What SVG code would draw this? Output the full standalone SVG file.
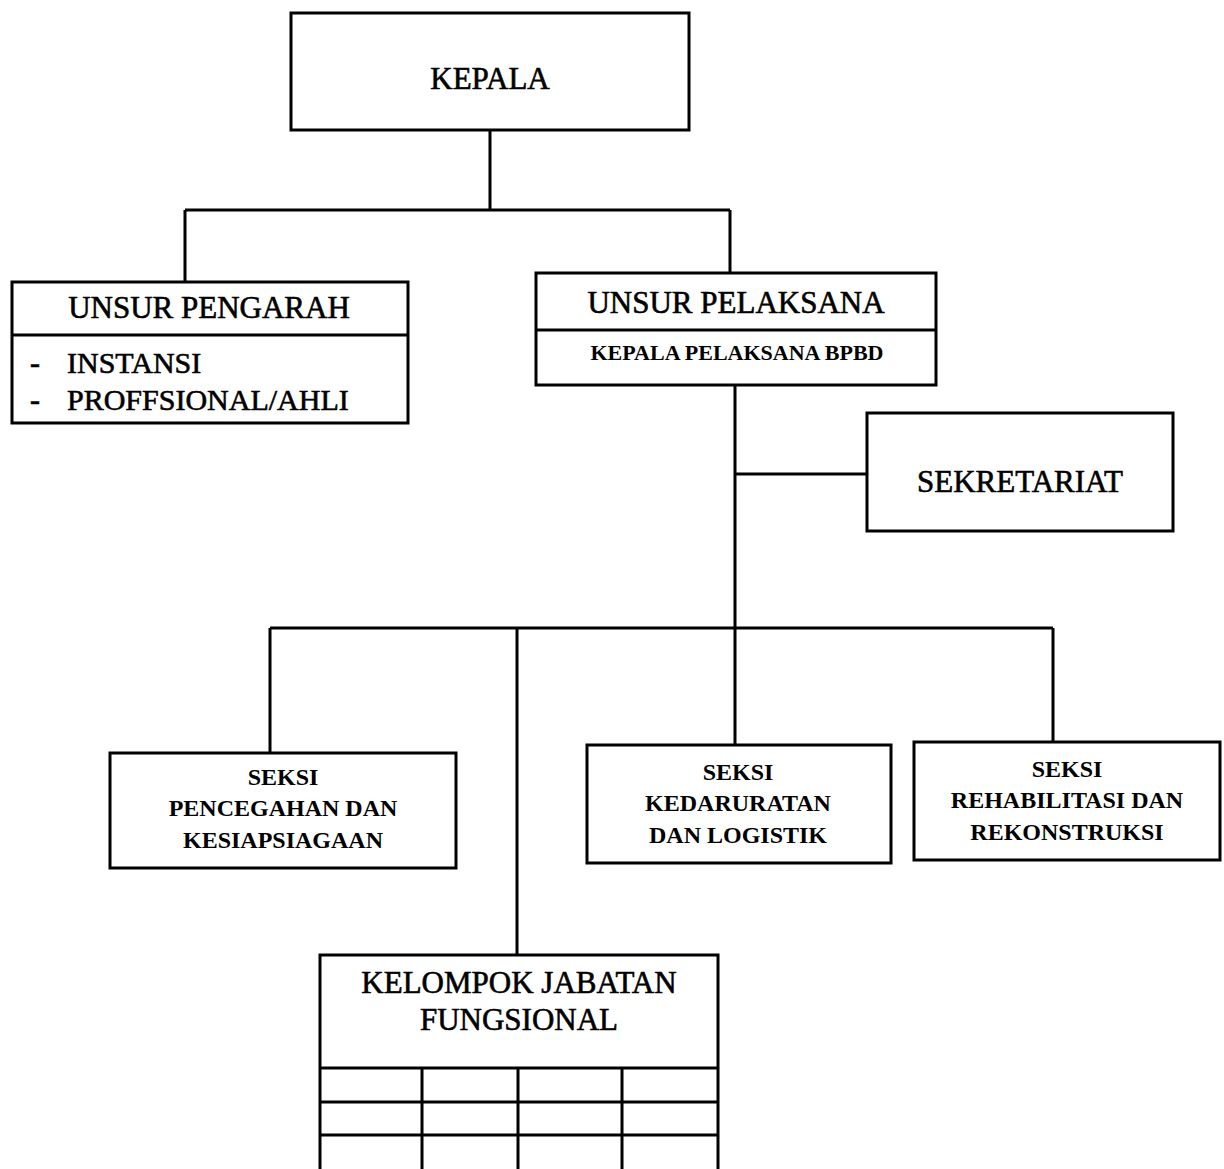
<svg xmlns="http://www.w3.org/2000/svg" width="1224" height="1169" viewBox="0 0 1224 1169">
<style>
.box{fill:#fff;stroke:#000;stroke-width:3}
.ln{fill:none;stroke:#000;stroke-width:3}
.t{font-family:"Liberation Serif","Times New Roman",serif;font-size:31px;fill:#000;stroke:#000;stroke-width:0.6;text-anchor:middle}
.s{font-family:"Liberation Serif","Times New Roman",serif;font-size:24px;font-weight:bold;fill:#000;text-anchor:middle}
.l{font-family:"Liberation Serif","Times New Roman",serif;font-size:30px;fill:#000;stroke:#000;stroke-width:0.6}
</style>
<rect width="1224" height="1169" fill="#fff"/>
<g id="connectors" class="ln">
<path d="M490 130V210M185 210H730M185 210V282M730 210V273"/>
<path d="M735 385V628M735 474H867"/>
<path d="M270 628H1053M270 628V753M517 628V955M735 628V745M1053 628V742"/>
</g>
<g id="kepala"><rect class="box" x="291" y="13" width="398" height="117"/><text class="t" x="490" y="89">KEPALA</text></g>
<g id="unsur-pengarah"><rect class="box" x="12" y="282" width="396" height="141"/><line class="ln" x1="12" y1="335" x2="408" y2="335"/><text class="t" x="209" y="318">UNSUR PENGARAH</text><text class="l" x="30" y="373" style="font-weight:bold">-</text><text class="l" x="67" y="373">INSTANSI</text><text class="l" x="30" y="410" style="font-weight:bold">-</text><text class="l" x="67" y="410">PROFFSIONAL/AHLI</text></g>
<g id="unsur-pelaksana"><rect class="box" x="536" y="273" width="400" height="112"/><line class="ln" x1="536" y1="330" x2="936" y2="330"/><text class="t" x="736" y="313">UNSUR PELAKSANA</text><text class="s" x="737" y="360" style="font-size:22px">KEPALA PELAKSANA BPBD</text></g>
<g id="sekretariat"><rect class="box" x="867" y="413" width="306" height="118"/><text class="t" x="1020" y="492">SEKRETARIAT</text></g>
<g id="seksi-pencegahan"><rect class="box" x="110" y="753" width="346" height="115"/><text class="s" x="283" y="785">SEKSI</text><text class="s" x="283" y="816">PENCEGAHAN DAN</text><text class="s" x="283" y="848">KESIAPSIAGAAN</text></g>
<g id="seksi-kedaruratan"><rect class="box" x="587" y="745" width="304" height="118"/><text class="s" x="738" y="780">SEKSI</text><text class="s" x="738" y="811">KEDARURATAN</text><text class="s" x="738" y="843">DAN LOGISTIK</text></g>
<g id="seksi-rehabilitasi"><rect class="box" x="914" y="742" width="306" height="118"/><text class="s" x="1067" y="777">SEKSI</text><text class="s" x="1067" y="808">REHABILITASI DAN</text><text class="s" x="1067" y="840">REKONSTRUKSI</text></g>
<g id="kelompok-jabatan-fungsional"><rect class="box" x="320" y="955" width="398" height="230"/><text class="t" x="519" y="993">KELOMPOK JABATAN</text><text class="t" x="519" y="1030">FUNGSIONAL</text><path class="ln" d="M320 1068H718M320 1102H718M320 1135H718M422 1068V1169M518 1068V1169M622 1068V1169"/></g>
</svg>
